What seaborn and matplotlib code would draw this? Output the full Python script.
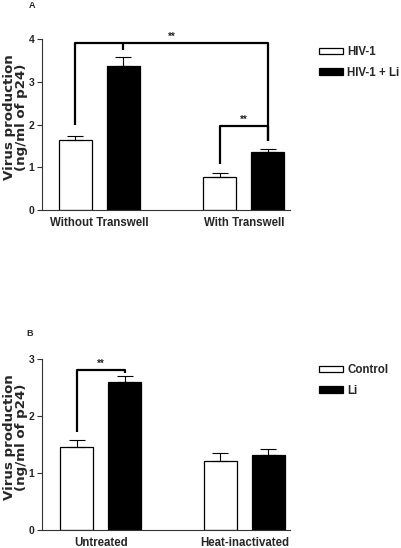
import matplotlib
matplotlib.use("Agg")
import matplotlib.pyplot as plt
import numpy as np
import pandas as pd
import seaborn as sns

# panel A data (ng/ml of p24, mean and SEM)
groups_a = ["Without Transwell", "With Transwell"]
series_a = ["HIV-1", "HIV-1 + Li"]
hiv = [1.63, 0.78]
hiv_sem = [0.11, 0.08]
hiv_li = [3.38, 1.35]
hiv_li_sem = [0.21, 0.08]

# panel B data
groups_b = ["Untreated", "Heat-inactivated"]
series_b = ["Control", "Li"]
ctrl = [1.46, 1.21]
ctrl_sem = [0.12, 0.14]
li = [2.61, 1.31]
li_sem = [0.09, 0.11]

sns.set_style("ticks")
plt.rcParams["font.family"] = ["Liberation Sans", "DejaVu Sans"]
plt.rcParams["font.weight"] = "bold"

fig = plt.figure(figsize=(4.01, 5.48), dpi=100)
ax_a = fig.add_axes([0.1047, 0.6168, 0.6185, 0.3115])
ax_b = fig.add_axes([0.1047, 0.0328, 0.6185, 0.3115])


def draw_panel(ax, groups, series, vals1, sem1, vals2, sem2, ymax):
    df = pd.DataFrame({
        "group": groups * 2,
        "series": [series[0]] * 2 + [series[1]] * 2,
        "value": vals1 + vals2,
    })
    sns.barplot(data=df, x="group", y="value", hue="series", order=groups,
                hue_order=series, palette={series[0]: "white", series[1]: "black"},
                edgecolor="black", linewidth=0.9, width=0.665, gap=0.31,
                errorbar=None, ax=ax, zorder=2)
    # one-sided SEM bars
    centers = []
    for cont, sems in zip(ax.containers, [sem1, sem2]):
        xs = [p.get_x() + p.get_width() / 2 for p in cont.patches]
        hs = [p.get_height() for p in cont.patches]
        ax.errorbar(xs, hs, yerr=[np.zeros(len(sems)), sems], fmt="none",
                    ecolor="black", elinewidth=0.8, capsize=6, capthick=0.8, zorder=3)
        centers.append(xs)
    ax.set_ylim(0, ymax)
    ax.set_yticks(range(ymax + 1))
    ax.set_xlabel("")
    ax.set_ylabel("Virus production\n(ng/ml of p24)", fontsize=9.6,
                  fontweight="bold", linespacing=0.85, family="DejaVu Sans")
    ax.yaxis.set_label_coords(-0.057, 0.545)
    ax.tick_params(axis="y", length=3.8, width=0.8, labelsize=7.5, pad=1.5,
                   color="#333333")
    ax.tick_params(axis="x", length=0, labelsize=8.3, pad=5)
    for lab in ax.get_xticklabels() + ax.get_yticklabels():
        lab.set_fontweight("bold")
    sns.despine(ax=ax)
    for s in ["left", "bottom"]:
        ax.spines[s].set_color("#333333")
        ax.spines[s].set_linewidth(0.8)
    return centers


def bracket(ax, x1, x2, y, y_left, y_right, mid=None, mid_y=None):
    kw = dict(color="black", lw=1.6, clip_on=False, zorder=4,
              solid_capstyle="butt")
    ax.plot([x1, x1, x2, x2], [y_left, y, y, y_right], **kw)
    if mid is not None:
        ax.plot([mid, mid], [y, mid_y], **kw)
    ax.text((x1 + x2) / 2, y + 0.03 * ax.get_ylim()[1] / 4, "**", ha="center",
            va="bottom", fontsize=7, fontweight="bold")


c_a = draw_panel(ax_a, groups_a, series_a, hiv, hiv_sem, hiv_li, hiv_li_sem, 4)
ax_a.set_xlim(-0.397, 1.32)
bracket(ax_a, c_a[0][0], c_a[1][1], 3.91, 2.0, 1.62, mid=c_a[1][0], mid_y=3.75)
bracket(ax_a, c_a[0][1], c_a[1][1], 1.97, 1.07, 1.62)

c_b = draw_panel(ax_b, groups_b, series_b, ctrl, ctrl_sem, li, li_sem, 3)
ax_b.set_xlim(-0.408, 1.318)
bracket(ax_b, c_b[0][0], c_b[1][0], 2.81, 1.73, 2.76)

for ax, yc in [(ax_a, 1 - 62.5 / 548), (ax_b, 1 - 380.5 / 548)]:
    sns.move_legend(ax, loc="center left", bbox_to_anchor=(318.5 / 401, yc),
                    bbox_transform=fig.transFigure, frameon=False, title=None,
                    handlelength=2.1, handleheight=0.45,
                    handletextpad=0.4, labelspacing=0.72, borderpad=0,
                    borderaxespad=0, prop={"weight": "bold", "size": 8.3})

fig.text(31.7 / 401, 1 - 6 / 548, "A", fontsize=6.5, fontweight="bold",
         ha="center", va="center")
fig.text(30 / 401, 1 - 333 / 548, "B", fontsize=6.5, fontweight="bold",
         ha="center", va="center")

fig.savefig("out.png", dpi=100)
